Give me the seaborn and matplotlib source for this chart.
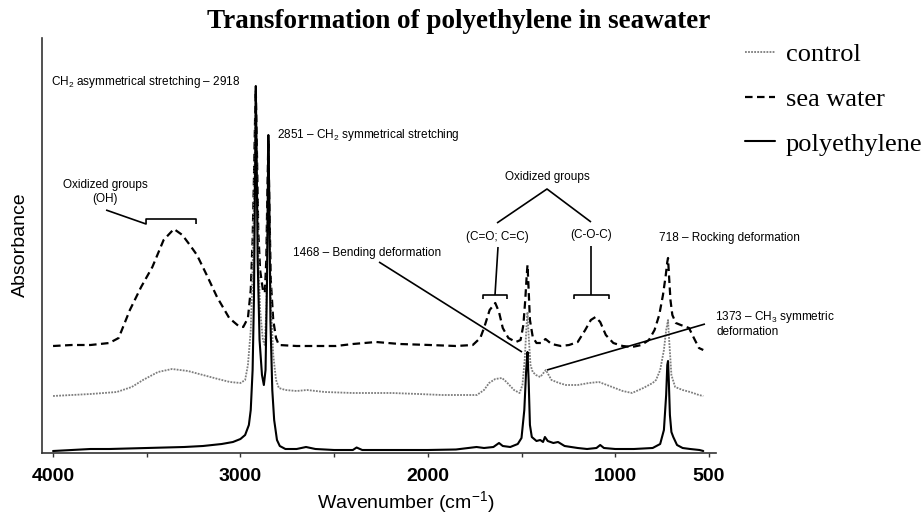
import numpy as np
import pandas as pd
import matplotlib
matplotlib.use("Agg")
import matplotlib.pyplot as plt
import seaborn as sns

# ---------------- data ----------------
title = "Transformation of polyethylene in seawater"
series_names = ["control", "sea water", "polyethylene"]
tick_values = [4000, 3500, 3000, 2500, 2000, 1500, 1000, 500]
tick_labels = ["4000", "", "3000", "", "2000", "", "1000", "500"]

# polyethylene (solid)
pe_wn = [4000, 3900, 3800, 3700, 3600, 3500, 3400, 3300, 3200, 3100, 3040, 3000,
         2975, 2955, 2945, 2935, 2928, 2922, 2918, 2914, 2908, 2898, 2885, 2875,
         2866, 2858, 2851, 2846, 2840, 2830, 2820, 2805, 2790, 2760, 2700, 2650,
         2600, 2500, 2400, 2380, 2350, 2200, 2000, 1850, 1740, 1700, 1650, 1620,
         1600, 1560, 1520, 1500, 1485, 1475, 1468, 1462, 1455, 1445, 1420, 1400,
         1385, 1375, 1360, 1330, 1305, 1270, 1200, 1150, 1100, 1080, 1060, 1000,
         900, 800, 760, 740, 728, 722, 718, 714, 708, 700, 690, 670, 640, 600,
         550, 530]
pe_abs = [0.02, 0.03, 0.04, 0.04, 0.045, 0.05, 0.055, 0.06, 0.07, 0.09, 0.11, 0.14,
          0.18, 0.28, 0.43, 0.83, 1.53, 2.73, 3.67, 3.03, 1.93, 1.13, 0.78, 0.68,
          0.83, 1.73, 3.18, 2.53, 1.33, 0.63, 0.33, 0.13, 0.07, 0.04, 0.04, 0.06,
          0.04, 0.03, 0.03, 0.055, 0.03, 0.03, 0.03, 0.035, 0.06, 0.05, 0.06, 0.10,
          0.07, 0.06, 0.09, 0.15, 0.43, 0.83, 1.01, 0.73, 0.28, 0.16, 0.12, 0.13,
          0.11, 0.16, 0.12, 0.10, 0.11, 0.07, 0.05, 0.04, 0.05, 0.08, 0.05, 0.04,
          0.04, 0.05, 0.09, 0.23, 0.58, 0.88, 0.92, 0.73, 0.38, 0.21, 0.16, 0.08,
          0.05, 0.04, 0.03, 0.02]

# sea water (dashed)
sw_wn = [4000, 3900, 3800, 3700, 3650, 3590, 3530, 3470, 3410, 3355, 3310, 3270,
         3232, 3180, 3125, 3060, 3010, 2985, 2960, 2945, 2935, 2928, 2922, 2918,
         2913, 2905, 2895, 2880, 2870, 2862, 2856, 2851, 2846, 2838, 2825, 2810,
         2795, 2700, 2600, 2490, 2400, 2276, 2150, 1990, 1850, 1760, 1720, 1700,
         1670, 1640, 1620, 1600, 1570, 1530, 1505, 1490, 1480, 1472, 1468, 1463,
         1455, 1440, 1420, 1395, 1372, 1340, 1290, 1246, 1200, 1160, 1130, 1105,
         1080, 1050, 1010, 960, 910, 860, 820, 790, 765, 745, 730, 722, 718, 713,
         705, 695, 676, 650, 606, 580, 553, 530]
sw_abs = [1.07, 1.08, 1.08, 1.10, 1.15, 1.43, 1.66, 1.86, 2.13, 2.24, 2.18, 2.08,
          1.98, 1.78, 1.56, 1.35, 1.27, 1.26, 1.35, 1.63, 2.13, 2.73, 3.33, 3.63,
          3.13, 2.23, 1.83, 1.63, 1.60, 1.93, 2.63, 3.13, 2.53, 1.73, 1.33, 1.15,
          1.08, 1.07, 1.07, 1.07, 1.09, 1.11, 1.09, 1.08, 1.07, 1.08, 1.15, 1.25,
          1.43, 1.50, 1.41, 1.25, 1.15, 1.11, 1.13, 1.28, 1.53, 1.78, 1.88, 1.68,
          1.33, 1.16, 1.10, 1.10, 1.14, 1.09, 1.07, 1.08, 1.11, 1.23, 1.33, 1.36,
          1.31, 1.18, 1.10, 1.07, 1.06, 1.08, 1.13, 1.23, 1.38, 1.58, 1.78, 1.91,
          1.95, 1.78, 1.53, 1.38, 1.30, 1.28, 1.25, 1.15, 1.05, 1.03]

# control (dotted)
ctrl_wn = [4000, 3900, 3800, 3660, 3580, 3520, 3440, 3365, 3280, 3200, 3120, 3056,
           3000, 2975, 2960, 2945, 2935, 2928, 2922, 2918, 2913, 2905, 2895, 2880,
           2870, 2862, 2856, 2851, 2846, 2838, 2825, 2810, 2795, 2760, 2700, 2645,
           2550, 2400, 2190, 2050, 1924, 1800, 1738, 1700, 1673, 1640, 1604, 1580,
           1540, 1510, 1495, 1483, 1473, 1468, 1462, 1452, 1440, 1423, 1400, 1370,
           1340, 1300, 1263, 1200, 1140, 1087, 1030, 960, 910, 850, 800, 782, 760,
           740, 728, 718, 712, 700, 680, 640, 600, 553, 530]
ctrl_abs = [0.57, 0.58, 0.59, 0.61, 0.66, 0.73, 0.81, 0.84, 0.82, 0.78, 0.74, 0.71,
            0.70, 0.73, 0.88, 1.23, 1.83, 2.53, 3.13, 3.53, 2.93, 2.03, 1.43, 1.13,
            1.08, 1.43, 2.23, 3.03, 2.43, 1.53, 0.98, 0.73, 0.65, 0.63, 0.62, 0.63,
            0.61, 0.60, 0.60, 0.59, 0.58, 0.58, 0.58, 0.63, 0.70, 0.74, 0.75, 0.71,
            0.63, 0.60, 0.68, 0.93, 1.28, 1.41, 1.18, 0.88, 0.81, 0.78, 0.76, 0.83,
            0.73, 0.70, 0.68, 0.68, 0.70, 0.71, 0.67, 0.62, 0.60, 0.65, 0.70, 0.73,
            0.83, 1.03, 1.23, 1.33, 1.13, 0.78, 0.66, 0.63, 0.61, 0.58, 0.57]

# ---------------- style ----------------
sns.set_theme(style="ticks")
plt.rcParams["font.family"] = ["Liberation Sans", "DejaVu Sans"]
plt.rcParams["mathtext.fontset"] = "custom"
plt.rcParams["mathtext.rm"] = "Liberation Sans"
plt.rcParams["mathtext.it"] = "Liberation Sans:italic"
plt.rcParams["mathtext.bf"] = "Liberation Sans:bold"
plt.rcParams["text.color"] = "black"
plt.rcParams["axes.labelcolor"] = "black"
plt.rcParams["xtick.color"] = "black"
plt.rcParams["xtick.labelcolor"] = "black"

W, H = 921, 516
fig = plt.figure(figsize=(W / 100, H / 100), dpi=100)
ax = fig.add_axes([42 / W, 1 - 453 / H, (716 - 42) / W, (453 - 38) / H])

df_ctrl = pd.DataFrame({"Wavenumber": ctrl_wn, "Absorbance": ctrl_abs})
df_sw = pd.DataFrame({"Wavenumber": sw_wn, "Absorbance": sw_abs})
df_pe = pd.DataFrame({"Wavenumber": pe_wn, "Absorbance": pe_abs})

sns.lineplot(data=df_sw, x="Wavenumber", y="Absorbance", ax=ax, color="black",
             lw=1.6, linestyle=(0, (3.4, 2.0)), label=series_names[1],
             estimator=None, sort=False, zorder=2)
sns.lineplot(data=df_ctrl, x="Wavenumber", y="Absorbance", ax=ax, color="#7d7d7d",
             lw=1.3, linestyle=(0, (1, 0.7)), label=series_names[0],
             estimator=None, sort=False, zorder=3)
sns.lineplot(data=df_pe, x="Wavenumber", y="Absorbance", ax=ax, color="black",
             lw=1.5, linestyle="-", label=series_names[2],
             estimator=None, sort=False, zorder=4)

ax.set_xlim(4059, 462)
ax.set_ylim(0, 4.15)
ax.set_yticks([])
ax.set_xticks(tick_values, tick_labels)
ax.tick_params(axis="x", length=3, width=1, pad=8, labelsize=14, color="#333333")
for t in ax.get_xticklabels():
    t.set_fontweight("bold")
sns.despine(ax=ax)
for s in ("left", "bottom"):
    ax.spines[s].set_linewidth(1.2)
    ax.spines[s].set_color("#333333")

ax.set_xlabel("Wavenumber (cm$^{-1}$)", fontsize=14)
ax.set_ylabel("Absorbance", fontsize=14)
ax.xaxis.set_label_coords((406 - 42) / 674, (453 - 489) / 415)
ax.yaxis.set_label_coords((29 - 42) / 674, (453 - 245) / 415)

# legend
handles, labels = ax.get_legend_handles_labels()
order = [labels.index(n) for n in series_names]
ax.legend([handles[i] for i in order], [labels[i] for i in order],
          loc="upper left", bbox_to_anchor=(745 / W, 1 - 43 / H),
          bbox_transform=fig.transFigure, frameon=False,
          prop={"family": "Liberation Serif", "size": 19},
          handlelength=1.15, handletextpad=0.4, labelspacing=0.8,
          borderpad=0, borderaxespad=0)

fig.text(459 / W, 1 - 22 / H, title, ha="center", va="center",
         fontsize=19.5, fontweight="bold", family="Liberation Serif")

# ---------------- annotations ----------------
def D(px, py):
    return (4000 - (px - 53) / 0.1874, (453 - py) / 100)

afs = 8.5
def txt(px, py, s, ha="left"):
    x, y = D(px, py)
    ax.text(x, y, s, ha=ha, va="center", fontsize=afs, color="black",
            clip_on=False, zorder=6)

def path(pts):
    xs, ys = zip(*[D(*p) for p in pts])
    ax.plot(xs, ys, color="black", lw=1.2, clip_on=False, zorder=5,
            solid_capstyle="butt")

txt(51, 82, r"CH$_\mathrm{2}$ asymmetrical stretching – 2918")
txt(277, 135, r"2851 – CH$_\mathrm{2}$ symmetrical stretching")
txt(105, 185, "Oxidized groups", ha="center")
txt(105, 199, "(OH)", ha="center")
path([(106, 210), (146, 224), (146, 219), (196, 219), (196, 224)])

txt(293, 253, "1468 – Bending deformation")
path([(379, 262), (522, 352)])

txt(547, 177, "Oxidized groups", ha="center")
path([(497, 223), (547, 189), (591, 222)])
txt(497, 237, "(C=O; C=C)", ha="center")
txt(591, 235, "(C-O-C)", ha="center")
path([(498, 247), (495, 295)])
path([(483, 299), (483, 295), (507, 295), (507, 299)])
path([(591, 246), (591, 295)])
path([(574, 299), (574, 295), (609, 295), (609, 299)])

txt(659, 238, "718 – Rocking deformation")
txt(715, 317, r"1373 – CH$_\mathrm{3}$ symmetric")
txt(717, 332, "deformation")
path([(547, 370), (705, 324)])

fig.savefig("out.png", dpi=100)
